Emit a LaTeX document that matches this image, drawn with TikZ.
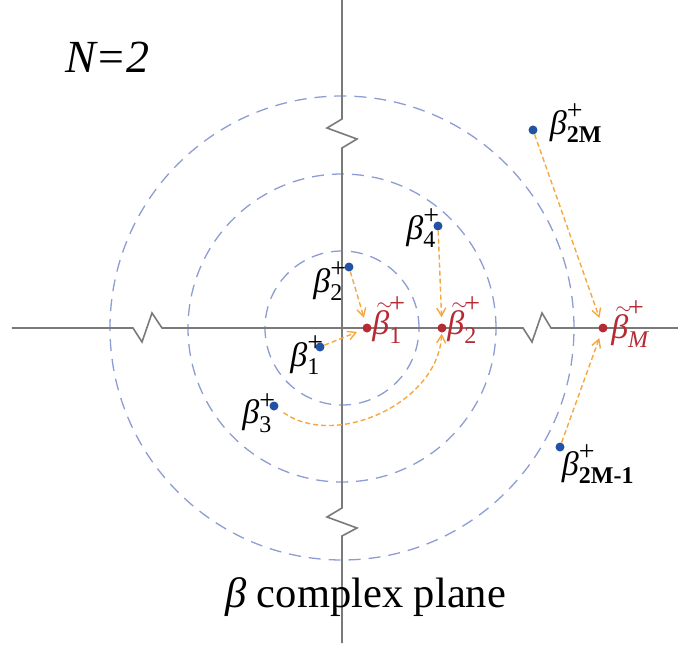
\RequirePackage{fix-cm}
\documentclass[tikz,border=0pt]{standalone}
\usepackage{amsmath}
\usepackage{fontspec}
\setmainfont{Liberation Serif}
\usetikzlibrary{arrows.meta, positioning}
\definecolor{ptblue}{RGB}{33,82,164}
\definecolor{ptred}{RGB}{182,42,52}
\definecolor{flowor}{RGB}{245,168,62}
\definecolor{ringblue}{RGB}{142,156,212}
\definecolor{axisgray}{RGB}{122,122,122}
\tikzset{
    axis_line/.style={
        draw=axisgray,
        line width=1.6pt,
        line join=miter
    },
    ring/.style={draw=ringblue, line width=1.3pt, dash pattern=on 12pt off 8pt},
    flow/.style={
        draw=flowor,
        line width=1.4pt,
        dash pattern=on 5pt off 3pt,
        -{Straight Barb[length=8pt, width=9pt]},
        shorten >=6pt
    },
    bpole/.style={circle, fill=ptblue, inner sep=0pt, minimum size=9pt},
    rpole/.style={circle, fill=ptred, inner sep=0pt, minimum size=9pt},
    blab/.style={font=\fontsize{34}{36}\selectfont, inner sep=0pt},
    rlab/.style={blab, text=ptred}
}
\newcommand{\bet}{\text{\itshape β}}
\newcommand{\scr}[1]{\text{\fontsize{24}{24}\selectfont #1}}
\newcommand{\pl}{\text{\fontsize{28}{28}\selectfont +}}
\newcommand{\tbet}{\text{\rlap{\hspace{4pt}\raisebox{24pt}{\fontsize{21}{21}\selectfont$\sim$}}\itshape β}}
\newcommand{\bsp}[1]{\ensuremath{\bet_{\scr{#1}}^{\pl}}}
\newcommand{\bti}[1]{\ensuremath{\tbet_{\scr{#1}}^{\pl}}}

\begin{document}
\begin{tikzpicture}[x=1pt, y=1pt]
    \useasboundingbox (-342,-323) rectangle (336,328);
    \coordinate (O) at (0,0);

    % rings
    \draw[ring] (O) circle (77pt);
    \draw[ring] (O) circle (154pt);
    \draw[ring] (O) circle (232pt);

    % axes with cuts
    \draw[axis_line] (-330,0) -- (-209,0) -- (-200,-14) -- (-190,15) -- (-180,0)
        -- (181,0) -- (190,-14) -- (200,15) -- (209,0) -- (336,0);
    \draw[axis_line] (0,328) -- (0,209) -- (-15,200) -- (15,189) -- (0,180)
        -- (0,-180) -- (-15,-189) -- (15,-200) -- (0,-208) -- (0,-315);

    % poles
    \node[bpole] (b1) at (-22,-19) {};
    \node[bpole] (b2) at (7,61) {};
    \node[bpole] (b3) at (-68,-78) {};
    \node[bpole] (b4) at (96,102) {};
    \node[bpole] (b2m) at (191,198) {};
    \node[bpole] (b2m1) at (218,-119) {};
    \node[rpole] (t1) at (25,0) {};
    \node[rpole] (t2) at (100,0) {};
    \node[rpole] (tM) at (261,0) {};

    % labels
    \node[blab] (l1) at (-35,-27) {\bsp{1}};
    \node[blab] (l2) at (-12,47) {\bsp{2}};
    \node[blab] (l3) at (-83,-85) {\bsp{3}};
    \node[blab] (l4) at (81,100) {\bsp{4}};
    \node[blab] (l2m) at (234,205) {\bsp{\bfseries 2M}};
    \node[blab] (l2m1) at (256,-136) {\bsp{\bfseries 2M-1}};
    \node[rlab] (lt1) at (47,8) {\bti{1}};
    \node[rlab] (lt2) at (122,8) {\bti{2}};
    \node[rlab] (ltM) at (288,4) {\bti{\itshape M}};

    % flows onto the real axis
    \draw[flow] (b2) -- (t1);
    \draw[flow] (b1) -- (t1);
    \draw[flow] (b4) -- (t2);
    \draw[flow, shorten <=7pt, shorten >=1pt] (b3) to[out=-35, in=-93] (t2);
    \draw[flow] (b2m) -- (tM);
    \draw[flow] (b2m1) -- (tM);

    \node[font=\fontsize{46}{50}\selectfont\itshape, anchor=base west, inner sep=0pt] (title) at (-277,255) {N=2};
    \node[font=\fontsize{42.5}{46}\selectfont, anchor=base west, inner sep=0pt] (plane) at (-117,-279) {\textit{β} complex plane};
\end{tikzpicture}
\end{document}
